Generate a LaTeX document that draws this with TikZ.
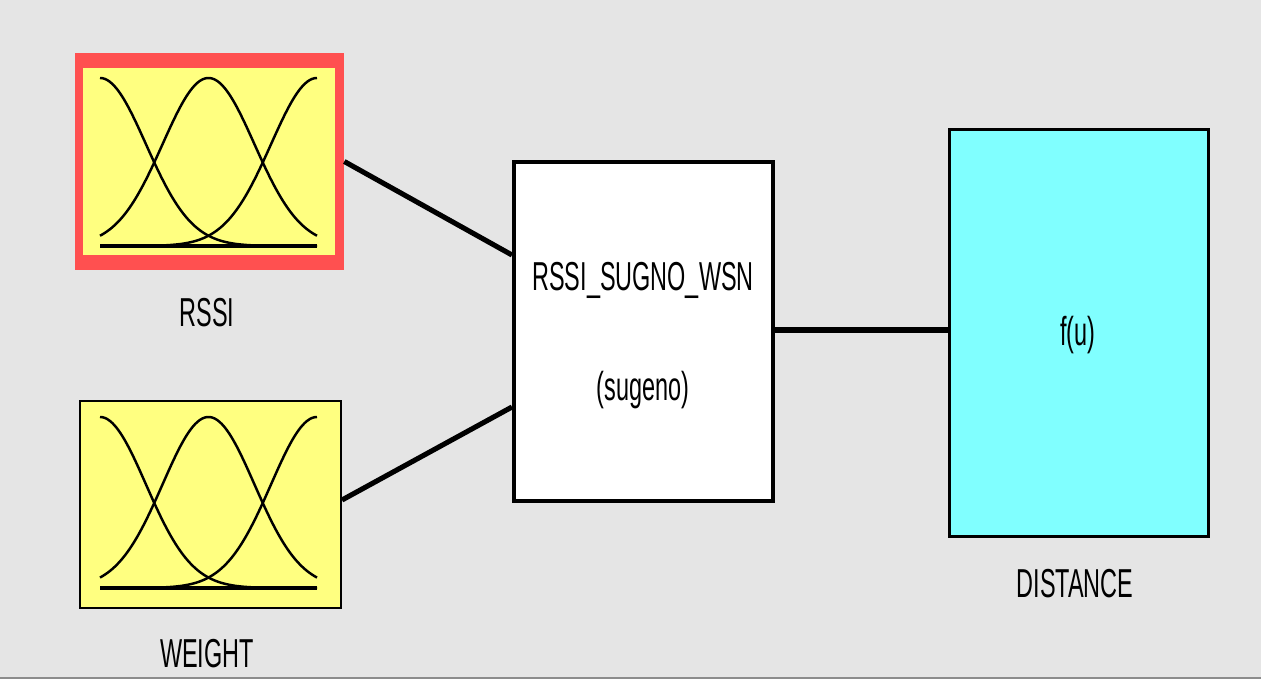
\documentclass[tikz,border=0pt]{standalone}
\usepackage{fontspec}
\newfontfamily\labelfont[FakeStretch=0.58]{Liberation Sans}
\definecolor{canvas}{HTML}{E5E5E5}
\definecolor{mfyellow}{HTML}{FFFF80}
\definecolor{selred}{HTML}{FF5050}
\definecolor{outcyan}{HTML}{80FFFF}
\begin{document}
\begin{tikzpicture}[x=0.02cm,y=-0.02cm,
  txt/.style={font=\labelfont\fontsize{23pt}{27pt}\selectfont, inner sep=0pt, anchor=base},
  wire/.style={line width=2.9pt},
  mfcurve/.style={line width=1.4pt},
  mfbase/.style={line width=2pt},
  inbox/.style={rectangle, inner sep=0pt, fill=mfyellow, draw=black, line width=1.2pt},
]
% background
\fill[canvas] (0,0) rectangle (1261,679);
\useasboundingbox (0,0) rectangle (1261,679);
\fill[black!45] (0,677) rectangle (1261,679);

% input RSSI (selected, red frame)
\node[rectangle, inner sep=0pt, fill=selred, minimum width=5.38cm, minimum height=4.34cm] (rssi) at (209.5,161.5) {};
\fill[mfyellow] (83,68) rectangle (335,255);
\foreach \c in {100,208.5,317}
  \draw[mfcurve] plot[domain=100:317, samples=90, smooth] (\x, {246-168*exp(-0.5*((\x-\c)/45.9)^2)});
\draw[mfbase] (100,246) -- (317,246);
\node[txt] (rssilabel) at (207,326) {RSSI};

% input WEIGHT
\node[inbox, minimum width=5.22cm, minimum height=4.14cm] (weight) at (210.5,504.5) {};
\foreach \c in {100,208.5,317}
  \draw[mfcurve] plot[domain=100:317, samples=90, smooth] (\x, {588-171*exp(-0.5*((\x-\c)/45.9)^2)});
\draw[mfbase] (100,588) -- (317,588);
\node[txt] (weightlabel) at (207,667) {WEIGHT};

% fuzzy inference system
\node[rectangle, inner sep=0pt, fill=white, draw=black, line width=2.3pt,
      minimum width=5.18cm, minimum height=6.78cm] (fis) at (643.5,331.5) {};
\node[txt] (fisname) at (643,290) {RSSI\_SUGNO\_WSN};
\node[txt] (fistype) at (643,400) {(sugeno)};

% output DISTANCE
\node[rectangle, inner sep=0pt, fill=outcyan, draw=black, line width=1.7pt,
      minimum width=5.18cm, minimum height=8.14cm] (dist) at (1079,333) {};
\node[txt] (fu) at (1078,345) {f(u)};
\node[txt] (distlabel) at (1075,597) {DISTANCE};

% connectors
\draw[wire] (rssi.east) -- ([yshift=1.53cm]fis.west);
\draw[wire] ([yshift=0.09cm]weight.east) -- ([yshift=-1.51cm]fis.west);
\draw[wire] ([yshift=0.03cm]fis.east) -- ([yshift=0.03cm]fis.east -| dist.west);
\end{tikzpicture}
\end{document}
